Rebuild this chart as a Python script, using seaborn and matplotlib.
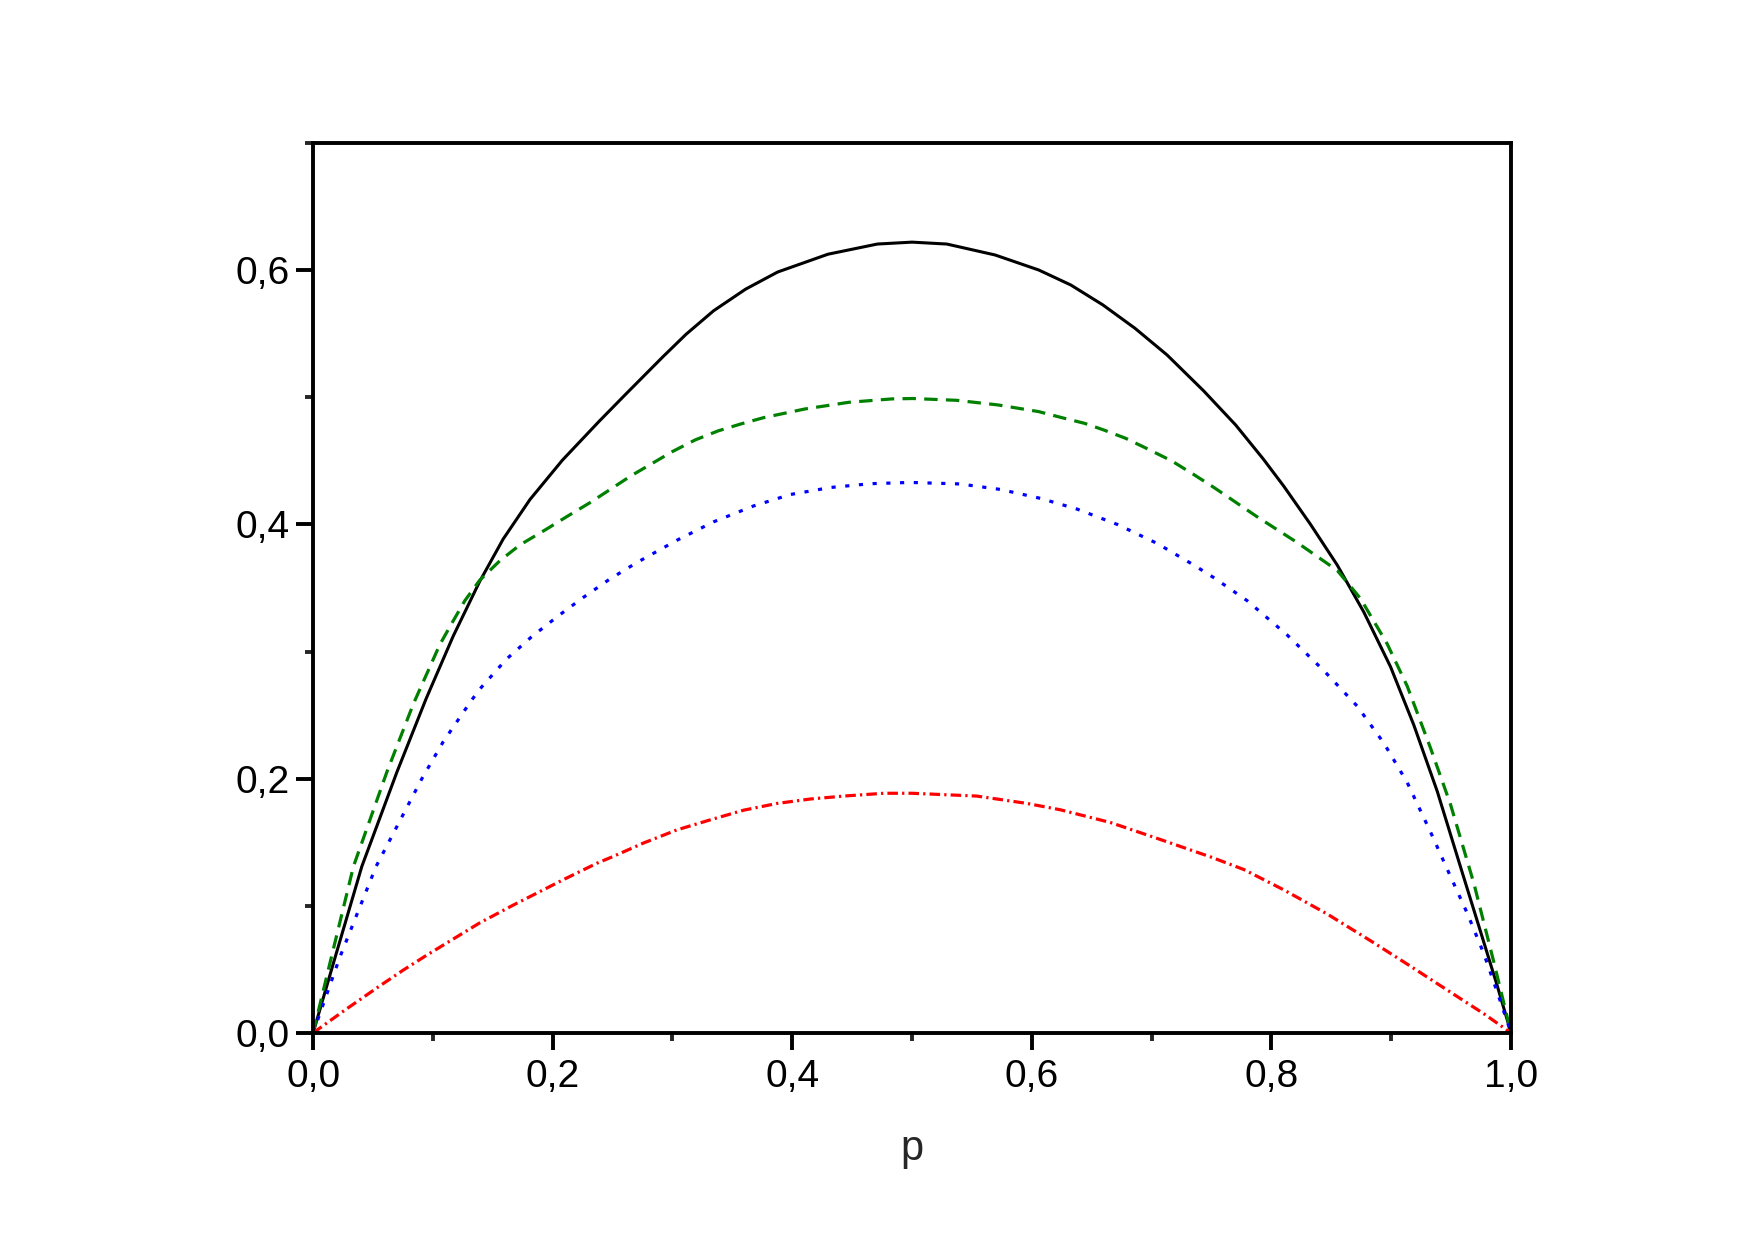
import matplotlib
matplotlib.use("Agg")
import matplotlib.pyplot as plt
import seaborn as sns
import pandas as pd
from matplotlib.ticker import MultipleLocator, FuncFormatter

# ---- data ----
p_black = [0.0, 0.017, 0.0407, 0.0699, 0.0944, 0.1169, 0.139, 0.1587, 0.181, 0.2081, 0.2387,
           0.2616, 0.2922, 0.3113, 0.3343, 0.361, 0.3878, 0.4298, 0.471, 0.500, 0.529, 0.5693,
           0.6057, 0.6325, 0.6593, 0.686, 0.7128, 0.7434, 0.7701, 0.7931, 0.8103, 0.8326,
           0.8549, 0.8771, 0.8994, 0.9189, 0.9384, 0.958, 0.9718, 0.9885, 1.0]
v_black = [0.0, 0.055, 0.131, 0.205, 0.263, 0.312, 0.355, 0.3885, 0.4195, 0.4505, 0.4810,
           0.5030, 0.5320, 0.5495, 0.5680, 0.5850, 0.5985, 0.6125, 0.6205, 0.622, 0.6205, 0.6119,
           0.6001, 0.5883, 0.5726, 0.5543, 0.5333, 0.5050, 0.4782, 0.4515, 0.4300, 0.4000,
           0.3680, 0.3310, 0.2880, 0.2420, 0.1900, 0.1300, 0.0880, 0.0370, 0.0]

p_green = [0.0, 0.0128, 0.0337, 0.0615, 0.0838, 0.1058, 0.1169, 0.1267, 0.139, 0.1559, 0.1726,
           0.1949, 0.2116, 0.231, 0.2505, 0.265, 0.2808, 0.2998, 0.3189, 0.338, 0.3571, 0.3763,
           0.4107, 0.447, 0.4833, 0.5005, 0.5369, 0.5713, 0.6057, 0.6248, 0.6439, 0.6593,
           0.6783, 0.6974, 0.7166, 0.735, 0.752, 0.788, 0.821, 0.8549, 0.8743, 0.8966, 0.9133,
           0.9328, 0.9495, 0.969, 0.9857, 1.0]
v_green = [0.0, 0.050, 0.131, 0.205, 0.259, 0.3055, 0.324, 0.3400, 0.3560, 0.3714, 0.3838,
           0.3963, 0.406, 0.417, 0.429, 0.438, 0.4467, 0.4572, 0.4664, 0.4735, 0.4790, 0.4840,
           0.4908, 0.4960, 0.4987, 0.499, 0.4976, 0.4940, 0.4887, 0.4840, 0.4795, 0.4745,
           0.4677, 0.4590, 0.4500, 0.4393, 0.429, 0.406, 0.386, 0.3638, 0.3417, 0.306, 0.2728,
           0.224, 0.1796, 0.1175, 0.0554, 0.0]

p_blue = [0.0, 0.0225, 0.0526, 0.0908, 0.1086, 0.1325, 0.1406, 0.1614, 0.1823, 0.2046, 0.2255,
          0.2477, 0.2703, 0.3037, 0.3343, 0.3677, 0.3984, 0.4318, 0.4652, 0.4985, 0.540,
          0.5736, 0.607, 0.6378, 0.6712, 0.7046, 0.7352, 0.752, 0.7797, 0.8131, 0.8437,
          0.8716, 0.8938, 0.9133, 0.9328, 0.9495, 0.9635, 0.9774, 0.9885, 1.0]
v_blue = [0.0, 0.060, 0.131, 0.200, 0.229, 0.262, 0.272, 0.294, 0.3115, 0.328, 0.3425,
          0.357, 0.370, 0.3875, 0.402, 0.4145, 0.4235, 0.429, 0.432, 0.433, 0.4318,
          0.4275, 0.4205, 0.412, 0.400, 0.385, 0.368, 0.358, 0.340, 0.313, 0.285,
          0.257, 0.228, 0.197, 0.158, 0.123, 0.094, 0.062, 0.032, 0.0]

p_red = [0.0, 0.017, 0.0278, 0.0557, 0.0754, 0.0946, 0.139, 0.167, 0.2088, 0.237, 0.2505,
         0.2759, 0.3037, 0.3316, 0.3594, 0.3873, 0.4152, 0.443, 0.4764, 0.500, 0.554, 0.596,
         0.6238, 0.6656, 0.7046, 0.749, 0.777, 0.8103, 0.8466, 0.8827, 0.916, 0.9495,
         0.9774, 1.0]
v_red = [0.0, 0.0115, 0.0188, 0.0370, 0.0495, 0.0610, 0.0865, 0.1005, 0.1205, 0.1335, 0.1388,
         0.1494, 0.1597, 0.1676, 0.1752, 0.1805, 0.1840, 0.1863, 0.1885, 0.1885, 0.1863, 0.1805,
         0.1755, 0.1655, 0.1530, 0.1385, 0.1285, 0.1125, 0.0935, 0.0725, 0.0525, 0.0320,
         0.0150, 0.0]

x_ticks = [0.0, 0.2, 0.4, 0.6, 0.8, 1.0]
y_ticks = [0.0, 0.2, 0.4, 0.6]
x_label = "p"

# ---- styling ----
sns.set_style("white")
plt.rcParams["font.family"] = ["Liberation Sans", "DejaVu Sans"]

fig = plt.figure(figsize=(17.55, 12.4), dpi=100)
ax = fig.add_axes([0.1784, 0.167, 0.8610 - 0.1784, 0.8847 - 0.167])

series = [
    (p_black, v_black, "black", None, 2.2),
    (p_green, v_green, "#008000", (4.2, 2.6), 2.3),
    (p_blue, v_blue, "#0000ff", (1.3, 3.0), 2.3),
    (p_red, v_red, "#ff0000", (3.3, 1.3, 0.7, 1.3), 2.3),
]
for px, vy, col, dash, lw in series:
    df = pd.DataFrame({"p": px, "v": vy})
    sns.lineplot(data=df, x="p", y="v", ax=ax, color=col, lw=lw,
                 sort=False, estimator=None)
    l = ax.lines[-1]
    if dash is not None:
        l.set_dashes(dash)
    l.set_solid_capstyle("butt")
    l.set_dash_capstyle("butt")
    l.set_solid_joinstyle("round")
    l.set_dash_joinstyle("round")

ax.set_xlim(0, 1.0)
ax.set_ylim(0, 0.7)
ax.set_xticks(x_ticks)
ax.set_yticks(y_ticks)
ax.xaxis.set_minor_locator(MultipleLocator(0.1))
ax.yaxis.set_minor_locator(MultipleLocator(0.1))
fmt = FuncFormatter(lambda x, pos: f"{x:.1f}".replace(".", ","))
ax.xaxis.set_major_formatter(fmt)
ax.yaxis.set_major_formatter(fmt)

for s in ax.spines.values():
    s.set_linewidth(2.8)
    s.set_color("black")
    s.set_visible(True)

ax.tick_params(which="major", direction="out", length=12, width=2.8,
               labelsize=28, pad=7, color="black", labelcolor="black",
               bottom=True, left=True, top=False, right=False)
ax.tick_params(which="minor", direction="out", length=6, width=2.8,
               bottom=True, left=True, top=False, right=False)
ax.tick_params(axis="y", which="major", pad=5)

ax.set_xlabel(x_label, fontsize=30, labelpad=24)
ax.set_ylabel("")
ax.grid(False)

fig.savefig("out.png", dpi=100, facecolor="white")
